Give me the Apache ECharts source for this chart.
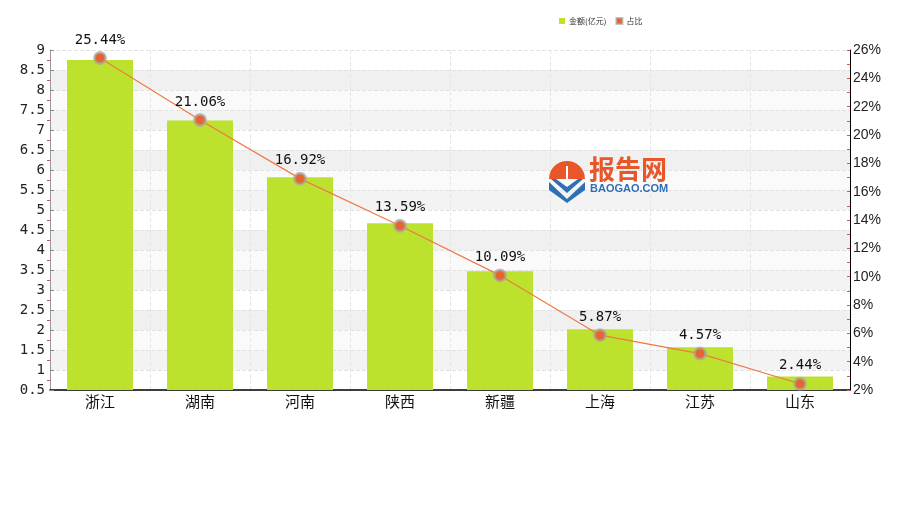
<!DOCTYPE html>
<html><head><meta charset="utf-8">
<script src="https://cdn.jsdelivr.net/npm/echarts@6/dist/echarts.min.js"></script>
<style>html,body{margin:0;padding:0;background:#fff}#c{width:900px;height:530px}</style>
</head><body><div id="c"></div>
<script>
const categories = ['浙江','湖南','河南','陕西','新疆','上海','江苏','山东'];
const amounts = [8.75, 7.24, 5.82, 4.67, 3.47, 2.02, 1.57, 0.84];
const shares = [25.44, 21.06, 16.92, 13.59, 10.09, 5.87, 4.57, 2.44];
const seriesNames = ['金额(亿元)', '占比'];

const chart = echarts.init(document.getElementById('c'));
const mono = 'DejaVu Sans Mono, monospace';
chart.setOption({
  animation: false,
  textStyle: {fontFamily: mono},
  legend: {
    top: 12, left: 554, itemWidth: 6, itemHeight: 6, itemGap: 9,
    textStyle: {fontSize: 8, color: '#333', fontFamily: 'Noto Sans CJK SC', padding: [0, 0, 0, -1]},
    data: [{name: seriesNames[0], icon: 'rect'}, {name: seriesNames[1], icon: 'rect'}]
  },
  grid: {left: 50, right: 50, top: 50, bottom: 140},
  xAxis: {
    type: 'category', data: categories,
    axisLine: {lineStyle: {color: '#000', width: 1.5}},
    axisTick: {show: false},
    axisLabel: {fontSize: 15, color: '#111', margin: 4, fontFamily: 'Noto Sans CJK SC'},
    splitLine: {show: true, lineStyle: {color: '#e6e6e6', type: 'dashed'}}
  },
  yAxis: [{
    type: 'value', min: 0.5, max: 9, interval: 0.5,
    axisLine: {show: true, lineStyle: {color: '#999'}},
    axisTick: {show: true, inside: true, length: 4, lineStyle: {color: '#888'}},
    axisLabel: {fontSize: 14, color: '#222', margin: 5, fontFamily: mono},
    splitLine: {show: true, lineStyle: {color: '#e2e2e2', type: 'dashed'}},
    splitArea: {show: true, areaStyle: {color: ['#ffffff', '#f3f3f3', '#fafafa', '#f0f0f0']}}
  }, {
    type: 'value', min: 2, max: 26, interval: 2,
    axisLine: {show: true, lineStyle: {color: '#000'}},
    axisTick: {show: true, inside: true, length: 3, lineStyle: {color: '#000'}},
    axisLabel: {fontSize: 14, color: '#222', margin: 3, formatter: '{value}%', fontFamily: 'Liberation Sans, sans-serif'},
    splitLine: {show: false}
  }, {
    type: 'value', min: 0.5, max: 9, interval: 0.5, position: 'left',
    axisLine: {show: false},
    axisTick: {show: false},
    minorTick: {show: true, splitNumber: 2, length: 3, lineStyle: {color: '#e05050'}},
    axisLabel: {show: false},
    splitLine: {show: false}
  }, {
    type: 'value', min: 2, max: 26, interval: 1, position: 'right', z: 0,
    axisLine: {show: false},
    axisTick: {show: true, inside: true, length: 3, lineStyle: {color: '#e05050'}},
    axisLabel: {show: false},
    splitLine: {show: false}
  }],
  series: [{
    name: seriesNames[0], type: 'bar', data: amounts, barWidth: 66,
    itemStyle: {color: '#bde22e'}
  }, {
    name: seriesNames[1], type: 'line', yAxisIndex: 1, data: shares,
    symbol: 'circle', symbolSize: 11,
    itemStyle: {color: '#e8642c', borderColor: 'rgba(165,165,165,0.65)', borderWidth: 3},
    lineStyle: {color: '#ee7a45', width: 1.2},
    label: {show: true, position: 'top', distance: 4, fontSize: 14, color: '#111', fontFamily: mono, formatter: p => p.value.toFixed(2) + '%'}
  }],
  graphic: {elements: [
    {type: 'sector', z: 100, shape: {cx: 567, cy: 179, r: 18, r0: 0, startAngle: Math.PI, endAngle: 2 * Math.PI}, style: {fill: '#e8562a'}},
    {type: 'rect', z: 101, shape: {x: 566, y: 166, width: 2, height: 16}, style: {fill: '#fff'}},
    {type: 'polygon', z: 100, shape: {points: [[551, 179], [567, 193], [583, 179], [578, 179], [567, 187], [556, 179]]}, style: {fill: '#2f6fb5'}},
    {type: 'polygon', z: 100, shape: {points: [[549, 182], [567, 199], [585, 182], [585, 190], [567, 203], [549, 190]]}, style: {fill: '#2f6fb5'}},
    {type: 'text', z: 100, x: 589, y: 156, style: {text: '报告网', fontSize: 26, fontWeight: 'bold', fill: '#e8562a', fontFamily: 'Noto Sans CJK SC'}},
    {type: 'text', z: 100, x: 590, y: 183, style: {text: 'BAOGAO.COM', fontSize: 11, fontWeight: 'bold', fill: '#2f6fb5', fontFamily: 'Liberation Sans'}}
  ]}
});
</script></body></html>
